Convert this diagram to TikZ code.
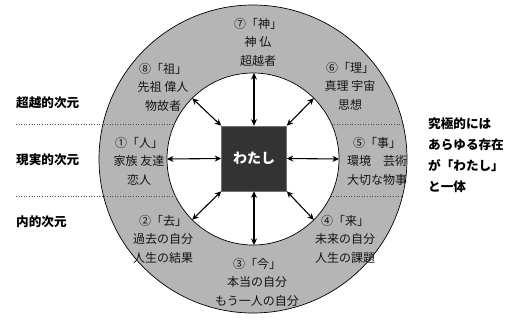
\documentclass[tikz,border=0pt]{standalone}
\usepackage{fontspec}
\newfontfamily\jp{Noto Sans CJK JP}
\usetikzlibrary{arrows.meta,calc}
\definecolor{ringgray}{RGB}{181,181,181}
\definecolor{boxgray}{RGB}{51,51,51}
\definecolor{txt}{RGB}{20,20,20}
\begin{document}
\begin{tikzpicture}[x=1pt,y=-1pt,
  ringtxt/.style={font=\jp\fontsize{12}{18.5}\selectfont, align=center, text=txt, inner sep=0pt},
  side/.style={font=\jp\bfseries\fontsize{12.6}{21}\selectfont, align=left, anchor=west, inner sep=0pt, text=black},
  arr/.style={{Stealth[length=6.5pt,width=6pt]}-{Stealth[length=6.5pt,width=6pt]}, line width=1.1pt},
  div/.style={dotted, line width=0.6pt, black!70}]
\useasboundingbox (0,0) rectangle (516,322);
\coordinate (c) at (253,159);
% rings
\filldraw[fill=ringgray, draw=black, line width=0.7pt] (c) circle[radius=154pt];
\filldraw[fill=white, draw=black, line width=0.7pt] (c) circle[radius=86pt];
% dotted dividers
\coordinate (l1) at (16,124);
\coordinate (l1i) at (174.44,124);
\coordinate (r1i) at (331.56,124);
\coordinate (r1o) at (402.97,124);
\coordinate (l2) at (16,196);
\coordinate (l2i) at (175.37,196);
\coordinate (r2i) at (330.63,196);
\coordinate (r2o) at (402.49,196);
\draw[div] (l1) -- (l1i);
\draw[div] (r1i) -- (r1o);
\draw[div] (l2) -- (l2i);
\draw[div] (r2i) -- (r2o);
% center box
\node[minimum size=65pt, fill=boxgray, draw=black!55, line width=0.6pt, text=white,
      font=\jp\bfseries\fontsize{14}{14}\selectfont, inner sep=0pt] (me) at (254,158.5) {わたし};
% points on inner circle
\coordinate (p0) at ($(c)+(0:86pt)$);
\coordinate (p45) at ($(c)+(45:86pt)$);
\coordinate (p90) at ($(c)+(90:86pt)$);
\coordinate (p135) at ($(c)+(135:86pt)$);
\coordinate (p180) at ($(c)+(180:86pt)$);
\coordinate (p225) at ($(c)+(225:86pt)$);
\coordinate (p270) at ($(c)+(270:86pt)$);
\coordinate (p315) at ($(c)+(315:86pt)$);
\draw[arr] (me.east) -- (p0);
\draw[arr] (me.north east) -- (p45);
\draw[arr] (me.north) -- (me.north |- p90);
\draw[arr] (me.north west) -- (p135);
\draw[arr] (me.west) -- (p180);
\draw[arr] (me.south west) -- (p225);
\draw[arr] (me.south) -- (me.south |- p270);
\draw[arr] (me.south east) -- (p315);
% ring texts
\node[ringtxt] (n7) at (258,42) {⑦「神」\\神 仏\\超越者};
\node[ringtxt] (n8) at (163,87) {⑧「祖」\\先祖 偉人\\物故者};
\node[ringtxt] (n6) at (350,86) {⑥「理」\\真理 宇宙\\思想};
\node[ringtxt] (n1) at (139,161) {①「人」\\家族 友達\\恋人};
\node[ringtxt] (n5) at (377,161) {⑤「事」\\環境　芸術\\大切な物事};
\node[ringtxt] (n2) at (163,239) {②「去」\\過去の自分\\人生の結果};
\node[ringtxt] (n4) at (345,239) {④「来」\\未来の自分\\人生の課題};
\node[ringtxt] (n3) at (257,282) {③「今」\\本当の自分\\もう一人の自分};
% side labels
\node[side] (s1) at (16,103) {超越的次元};
\node[side] (s2) at (16,160) {現実的次元};
\node[side] (s3) at (16,222) {内的次元};
\node[side] (rt) at (428,155) {究極的には\\あらゆる存在\\が「わたし」\\と一体};
\end{tikzpicture}
\end{document}
